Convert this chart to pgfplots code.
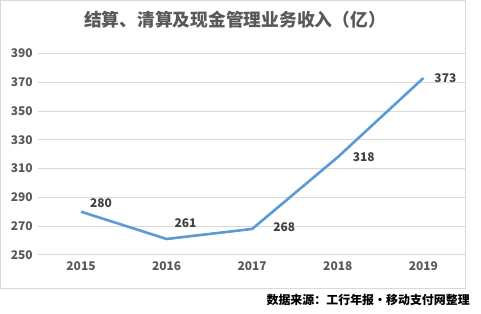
\documentclass[border=0pt]{standalone}
\usepackage{pgfplots}
\pgfplotsset{compat=1.18}
\usepackage{pgfplotstable}
\usepackage{fontspec}
\setmainfont{Noto Sans CJK SC}
\definecolor{lineblue}{HTML}{5B9BD5}
\definecolor{gridgray}{HTML}{D9D9D9}
\definecolor{txtgray}{HTML}{595959}
\definecolor{lblgray}{HTML}{404040}
\pgfplotstableread{
x y dx dy
0 280 20 9
1 261 19 16
2 268 32 2
3 318 26 0
4 373 22 0
}\datatab
\begin{document}
\begin{tikzpicture}[x=1bp,y=1bp]
\path[use as bounding box] (0,0) rectangle (481,313);
\draw[gridgray,line width=0.8bp] (0.5,25) rectangle (465.5,312.5);
\begin{axis}[
  at={(38.2bp,58.2bp)}, anchor=south west,
  scale only axis, width=428bp, height=201.2bp,
  xmin=-0.5, xmax=4.5, ymin=250, ymax=390,
  xtick={0,1,2,3,4}, xticklabels={2015,2016,2017,2018,2019},
  ytick={250,270,...,390},
  axis line style={draw=none},
  major tick length=0pt,
  ymajorgrids, grid style={gridgray,line width=0.8bp},
  /pgf/number format/assume math mode=true,
  tick label style={font=\fontsize{12}{14}\selectfont\bfseries, text=txtgray},
  yticklabel style={xshift=-2bp},
  xticklabel style={yshift=-3bp},
  clip=false,
]
\addplot[lineblue, line width=2.6bp,
  visualization depends on={\thisrow{dx}\as\dx},
  visualization depends on={\thisrow{dy}\as\dy},
  nodes near coords,
  nodes near coords style={anchor=center, xshift=\dx bp, yshift=\dy bp,
    font=\fontsize{12}{14}\selectfont\bfseries, text=lblgray,
    /pgf/number format/assume math mode=true},
] table[x=x,y=y] {\datatab};
\end{axis}
\node[font=\fontsize{17.8}{20}\selectfont\bfseries, text=txtgray] at (235,293) {结算、清算及现金管理业务收入（亿）};
\node[font=\fontsize{12}{14}\selectfont\bfseries, text=black, anchor=east, inner sep=0pt] at (470,13) {数据来源：工行年报•移动支付网整理};
\end{tikzpicture}
\end{document}
